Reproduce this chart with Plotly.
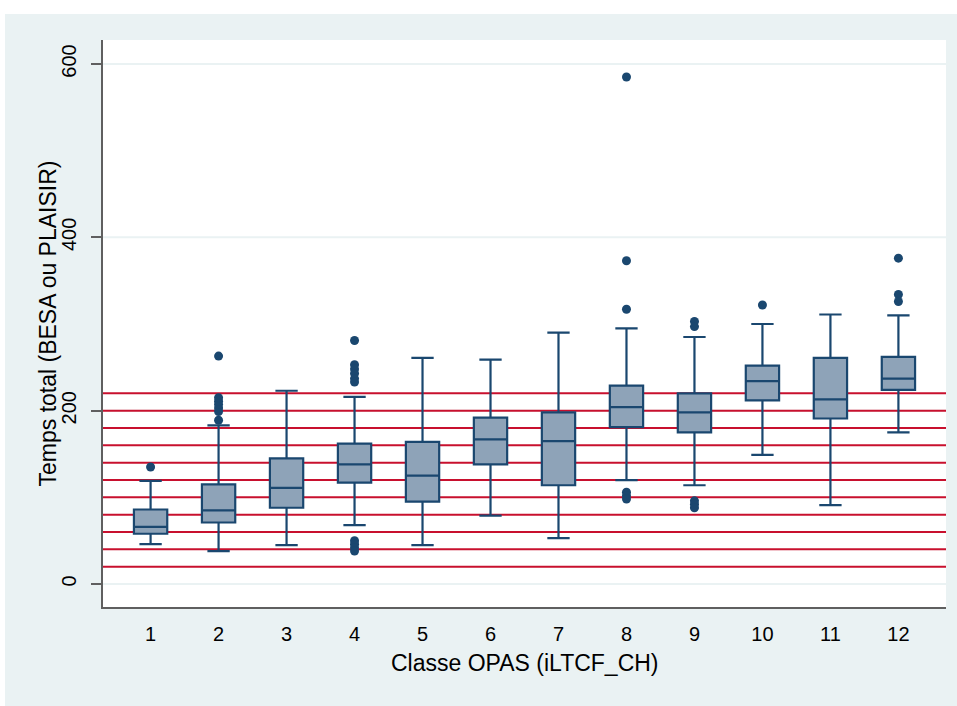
import plotly.graph_objects as go

# Box summaries per OPAS class (minutes)
classes = [1, 2, 3, 4, 5, 6, 7, 8, 9, 10, 11, 12]
lower_whisker = [46, 38, 45, 68, 45, 79, 53, 120, 114, 149, 91, 175]
q1 = [58, 71, 88, 117, 95, 138, 114, 181, 175, 212, 191, 224]
median = [66, 85, 111, 138, 125, 167, 165, 204, 198, 234, 213, 237]
q3 = [86, 115, 145, 162, 164, 192, 198, 229, 220, 252, 261, 262]
upper_whisker = [119, 183, 223, 216, 261, 259, 290, 295, 285, 300, 311, 310]

# Outlying observations: class and value
outlier_class = [1,
                 2, 2, 2, 2, 2, 2, 2,
                 4, 4, 4, 4, 4, 4, 4, 4, 4, 4,
                 8, 8, 8, 8, 8, 8,
                 9, 9, 9, 9, 9,
                 10,
                 12, 12, 12]
outlier_value = [135,
                 189, 199, 203, 207, 211, 215, 263,
                 281, 253, 248, 243, 237, 233, 50, 46, 42, 38,
                 585, 373, 317, 106, 102, 98,
                 303, 297, 96, 92, 88,
                 322,
                 376, 334, 326]

# Reference levels drawn across the plot
ref_levels = [20, 40, 60, 80, 100, 120, 140, 160, 180, 200, 220]

y_ticks = [0, 200, 400, 600]
x_range = [0.3, 12.7]
y_range = [-26.5, 627.7]

navy = "#1a476f"
box_fill = "#8ea3b8"
bg = "#eaf2f3"
red = "#c8102e"
font_family = "Liberation Sans, Arial, sans-serif"

fig = go.Figure()

fig.add_trace(go.Box(
    x=classes,
    q1=q1,
    median=median,
    q3=q3,
    lowerfence=lower_whisker,
    upperfence=upper_whisker,
    fillcolor=box_fill,
    line=dict(color=navy, width=2.2),
    width=0.49,
    whiskerwidth=0.67,
    boxpoints=False,
    showlegend=False,
))

fig.add_trace(go.Scatter(
    x=outlier_class,
    y=outlier_value,
    mode="markers",
    marker=dict(color=navy, size=9, line=dict(width=0)),
    showlegend=False,
))

shapes = []
# light gridlines first, then the red reference lines on top of them,
# all underneath the boxes
for t in y_ticks:
    shapes.append(dict(type="line", xref="paper", x0=0, x1=1, yref="y",
                       y0=t, y1=t, layer="below",
                       line=dict(color=bg, width=2)))
for lvl in ref_levels:
    shapes.append(dict(type="line", xref="paper", x0=0, x1=1, yref="y",
                       y0=lvl, y1=lvl, layer="below",
                       line=dict(color=red, width=2)))

# white margins at the top and left edge of the page
shapes.append(dict(type="rect", xref="paper", yref="paper",
                   x0=-0.3, x1=1.2, y0=1 + 26 / 567, y1=1.3,
                   fillcolor="white", line=dict(width=0), layer="above"))
shapes.append(dict(type="rect", xref="paper", yref="paper",
                   x0=-0.3, x1=(5 - 103) / 843, y0=-0.3, y1=1.3,
                   fillcolor="white", line=dict(width=0), layer="above"))

fig.update_layout(
    width=957,
    height=706,
    margin=dict(l=103, r=11, t=40, b=99),
    paper_bgcolor=bg,
    plot_bgcolor="white",
    font=dict(family=font_family, color="black"),
    shapes=shapes,
    annotations=[
        dict(text="Temps total (BESA ou PLAISIR)", xref="paper", yref="paper",
             x=(47 - 103) / 843, y=0.5, textangle=-90, showarrow=False,
             xanchor="center", yanchor="middle", font=dict(size=23)),
        dict(text="Classe OPAS (iLTCF_CH)", xref="paper", yref="paper",
             x=0.5, y=(607 - 663) / 567, showarrow=False,
             xanchor="center", yanchor="middle", font=dict(size=23)),
    ],
)

fig.update_xaxes(
    range=x_range,
    tickmode="array",
    tickvals=classes,
    ticktext=[str(c) for c in classes],
    ticks="",
    ticklabelstandoff=8,
    tickfont=dict(size=20),
    showgrid=False,
    zeroline=False,
    showline=True,
    linecolor="#5f5f5f",
    linewidth=2,
)

fig.update_yaxes(
    range=y_range,
    tickmode="array",
    tickvals=y_ticks,
    ticks="outside",
    ticklen=10,
    tickwidth=1.5,
    tickcolor="#5f5f5f",
    tickangle=-90,
    ticklabelstandoff=7,
    tickfont=dict(size=20),
    showgrid=False,
    zeroline=False,
    showline=True,
    linecolor="#5f5f5f",
    linewidth=2,
)

fig.write_html("out.html")
